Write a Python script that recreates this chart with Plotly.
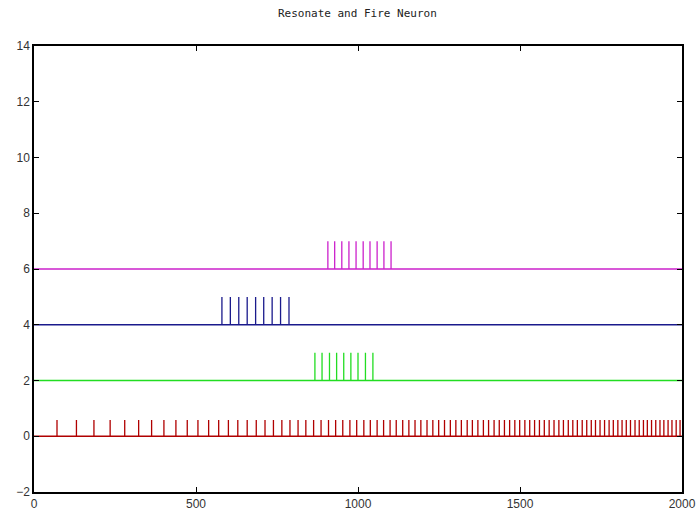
import plotly.graph_objects as go

# Spike times (time units, 0..2000)
red_spikes = [71, 131, 185, 235, 280, 323, 363, 401, 438, 473, 506, 539, 570, 600,
              629, 658, 686, 713, 739, 765, 790, 815, 839, 863, 886, 909, 931, 953,
              975, 996, 1018, 1038, 1059, 1079, 1099, 1118, 1138, 1157, 1176, 1194,
              1213, 1231, 1249, 1267, 1285, 1302, 1319, 1337, 1353, 1370, 1387, 1403,
              1420, 1436, 1452, 1468, 1484, 1499, 1515, 1530, 1545, 1560, 1575, 1590,
              1605, 1620, 1634, 1649, 1663, 1677, 1692, 1706, 1720, 1733, 1747, 1761,
              1775, 1788, 1802, 1815, 1828, 1841, 1855, 1868, 1881, 1893, 1906, 1919,
              1932, 1944, 1957, 1969, 1982, 1994]
green_spikes = [867, 889, 912, 934, 956, 978, 1000, 1023, 1046]
blue_spikes = [580, 606, 632, 658, 684, 709, 735, 761, 787]
magenta_spikes = [907, 928, 950, 972, 994, 1016, 1037, 1059, 1080, 1102]

series = [
    ("red", red_spikes, 0.0, 0.58, "#b00000"),
    ("green", green_spikes, 2.0, 1.0, "#22dd22"),
    ("blue", blue_spikes, 4.0, 1.0, "#1a1a8c"),
    ("magenta", magenta_spikes, 6.0, 1.0, "#cc22cc"),
]

t_start, t_end = 0, 2000

fig = go.Figure()
for name, spikes, base, h, color in series:
    xs, ys = [t_start], [base]
    for t in spikes:
        xs += [t, t, t]
        ys += [base, base + h, base]
    xs.append(t_end)
    ys.append(base)
    fig.add_trace(go.Scatter(x=xs, y=ys, mode="lines", name=name,
                             line=dict(color=color, width=1.3),
                             showlegend=False, hoverinfo="skip"))

axis_common = dict(showgrid=False, zeroline=False, showline=True, linecolor="black",
                   linewidth=1.5, mirror="ticks", ticks="inside", ticklen=5,
                   tickcolor="black", automargin=False,
                   tickfont=dict(family="Liberation Sans", size=12, color="#333333"))

fig.update_layout(
    width=698, height=522,
    margin=dict(l=34, r=16, t=46, b=30, autoexpand=False),
    paper_bgcolor="white", plot_bgcolor="white",
    title=dict(text="Resonate and Fire Neuron", x=0.512, xanchor="center",
               y=0.975, yanchor="middle",
               font=dict(family="DejaVu Sans Mono", size=11, color="#222222")),
    xaxis=dict(range=[0, 2000], tickvals=[0, 500, 1000, 1500, 2000], **axis_common),
    yaxis=dict(range=[-2, 14], tickvals=[-2, 0, 2, 4, 6, 8, 10, 12, 14], **axis_common),
)

fig.write_html("out.html")
